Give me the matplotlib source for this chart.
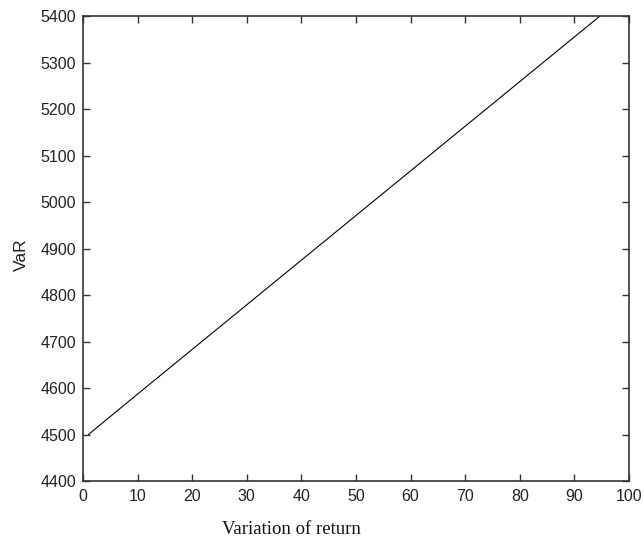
import matplotlib
matplotlib.use("Agg")
import matplotlib.pyplot as plt

# Data
variation = [1, 10, 20, 30, 40, 50, 60, 70, 80, 90, 100]
var_values = [4500, 4587, 4683, 4779, 4875, 4971, 5067, 5163, 5259, 5355, 5451]

x_ticks = [0, 10, 20, 30, 40, 50, 60, 70, 80, 90, 100]
y_ticks = [4400, 4500, 4600, 4700, 4800, 4900, 5000, 5100, 5200, 5300, 5400]

fig = plt.figure(figsize=(6.44, 5.46), dpi=100)
ax = fig.add_axes([83/644, 1 - 481/546, (629-83)/644, (481-16)/546])

ax.plot(variation, var_values, color="black", linewidth=0.8)
ax.set_xlim(0, 100)
ax.set_ylim(4400, 5400)
ax.set_xticks(x_ticks)
ax.set_yticks(y_ticks)

sans = ["Liberation Sans", "DejaVu Sans"]
for lbl in ax.get_xticklabels() + ax.get_yticklabels():
    lbl.set_family(sans)
    lbl.set_fontsize(11.5)
    lbl.set_color("#222222")

ax.tick_params(direction="in", length=5, width=1, top=True, right=True,
               color="#333333")
ax.tick_params(axis="x", pad=6)
ax.tick_params(axis="y", pad=5)
for s in ax.spines.values():
    s.set_color("#333333")
    s.set_linewidth(1.2)

fig.text(291/644, 1 - 530/546, "Variation of return", family=["Liberation Serif", "DejaVu Serif"],
         fontsize=13.5, ha="center", va="center", color="#111111")
fig.text(21/644, 1 - 255/546, "VaR", family=sans, fontsize=12.5, rotation=90,
         ha="center", va="center", color="#222222")

fig.savefig("out.png", dpi=100)
